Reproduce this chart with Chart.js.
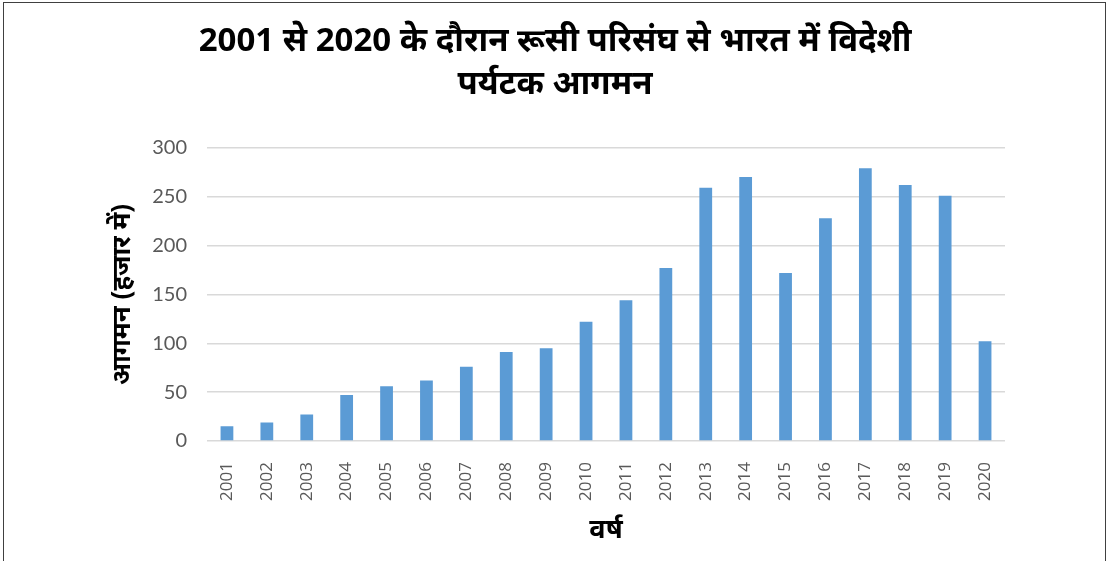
<!DOCTYPE html>
<html>
<head>
<meta charset="utf-8">
<script src="https://cdn.jsdelivr.net/npm/chart.js@4"></script>
<style>
  body { margin: 0; background: #fff; }
  #wrap { position: relative; width: 1109px; height: 561px; }
  #frame {
    position: absolute; left: 3px; top: 2px; width: 1101px; height: 600px;
    border: 1.5px solid #404040; pointer-events: none;
  }
</style>
</head>
<body>
<div id="wrap">
  <canvas id="arrivalsChart" width="1109" height="561"></canvas>
  <div id="frame"></div>
</div>
<script>
const years = ["2001", "2002", "2003", "2004", "2005", "2006", "2007", "2008", "2009", "2010",
  "2011", "2012", "2013", "2014", "2015", "2016", "2017", "2018", "2019", "2020"];
// arrivals from Russian Federation, in thousands
const arrivals = [15, 19, 27, 47, 56, 62, 76, 91, 95, 122,
  144, 177, 259, 270, 172, 228, 279, 262, 251, 102];
const yTicks = [0, 50, 100, 150, 200, 250, 300];

const titleLines = ["2001 से 2020 के दौरान रूसी परिसंघ से भारत में विदेशी", "पर्यटक आगमन"];
const yTitle = "आगमन (हजार में)";
const xTitle = "वर्ष";

const devFont = "'Noto Sans', 'DejaVu Sans', sans-serif";
const tickFont = "Lato, 'Open Sans', sans-serif";

const ctx = document.getElementById("arrivalsChart").getContext("2d");
const chart = new Chart(ctx, {
  type: "bar",
  data: {
    labels: years,
    datasets: [{
      label: "आगमन",
      data: arrivals,
      backgroundColor: "#5b9bd5",
      barPercentage: 0.32,
      categoryPercentage: 1
    }]
  },
  options: {
    responsive: false,
    animation: false,
    layout: { padding: { left: 105, right: 104, top: 0, bottom: 0 } },
    plugins: {
      legend: { display: false },
      tooltip: { enabled: false },
      title: {
        display: true,
        text: titleLines,
        color: "#000",
        font: { family: devFont, size: 33, weight: "bold", lineHeight: 1.3 },
        padding: { top: 20, bottom: 42 }
      }
    },
    scales: {
      x: {
        grid: { display: false },
        border: { display: false },
        ticks: {
          color: "#595959",
          font: { family: "'Open Sans', sans-serif", size: 17 },
          minRotation: 90,
          maxRotation: 90,
          padding: 13
        },
        title: {
          display: true,
          text: xTitle,
          color: "#000",
          font: { family: devFont, size: 27, weight: "bold" },
          padding: { top: 4, bottom: 14 }
        },
        afterFit: scale => { scale.height = 120; }
      },
      y: {
        min: 0,
        max: 300,
        afterBuildTicks: scale => { scale.ticks = yTicks.map(v => ({ value: v })); },
        grid: { color: "#d9d9d9", lineWidth: 1.5, drawTicks: false },
        border: { display: false },
        ticks: {
          color: "#595959",
          font: { family: tickFont, size: 20 },
          padding: 20
        },
        title: {
          display: true,
          text: yTitle,
          color: "#000",
          font: { family: devFont, size: 26, weight: "bold" },
          padding: 2
        },
        afterFit: scale => { scale.width = 102; }
      }
    }
  }
});
</script>
</body>
</html>
